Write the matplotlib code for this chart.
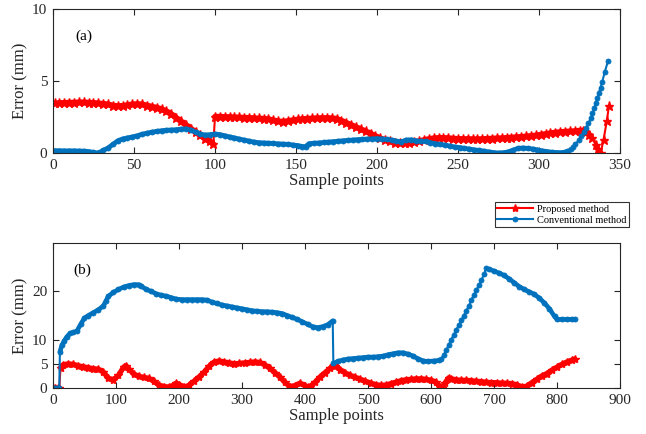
import numpy as np
import matplotlib
matplotlib.use("Agg")
import matplotlib.pyplot as plt

plt.rcParams['font.family'] = ['Liberation Serif', 'DejaVu Serif']

RED = '#FF0000'
BLUE = '#0072BD'
INK = '#262626'

# ---- trajectory (a): error per sample point ----
xa_prop = [1, 4, 7, 10, 13, 16, 19, 22, 25, 28, 31, 34, 37, 40, 43, 46, 49, 52, 55, 58,
           61, 64, 67, 70, 73, 76, 79, 82, 85, 88, 91, 94, 97, 99, 100, 103, 106, 109, 112, 115,
           118, 121, 124, 127, 130, 133, 136, 139, 142, 145, 148, 151, 154, 157, 160, 163, 166, 169, 172, 175,
           178, 181, 184, 187, 190, 193, 196, 199, 202, 205, 208, 211, 214, 217, 220, 223, 226, 229, 232, 235,
           238, 241, 244, 247, 250, 253, 256, 259, 262, 265, 268, 271, 274, 277, 280, 283, 286, 289, 292, 295,
           298, 301, 304, 307, 310, 313, 316, 319, 322, 325, 327, 329, 331, 333, 335, 336.5, 338, 339.8, 341.8, 343.2]
ya_prop = [3.45, 3.47, 3.48, 3.50, 3.50, 3.52, 3.52, 3.50, 3.48, 3.45, 3.42, 3.38, 3.30, 3.26, 3.28, 3.33, 3.38, 3.40, 3.38, 3.30,
           3.22, 3.15, 3.05, 2.90, 2.70, 2.45, 2.20, 1.95, 1.70, 1.45, 1.22, 1.00, 0.80, 0.62, 2.52, 2.52, 2.50, 2.50, 2.48, 2.47,
           2.45, 2.44, 2.42, 2.40, 2.38, 2.35, 2.28, 2.20, 2.18, 2.22, 2.28, 2.33, 2.36, 2.38, 2.40, 2.42, 2.43, 2.43, 2.42, 2.38,
           2.25, 2.10, 1.95, 1.80, 1.65, 1.50, 1.35, 1.18, 1.02, 0.90, 0.80, 0.72, 0.66, 0.66, 0.70, 0.76, 0.82, 0.90, 0.97, 1.02,
           1.05, 1.05, 1.03, 1.00, 0.98, 0.97, 0.97, 0.96, 0.96, 0.97, 0.98, 1.00, 1.02, 1.03, 1.05, 1.07, 1.10, 1.12, 1.15, 1.18,
           1.22, 1.27, 1.32, 1.37, 1.42, 1.45, 1.48, 1.50, 1.52, 1.55, 1.55, 1.48, 1.28, 1.02, 0.55, 0.30, 0.00, 0.90, 2.20, 3.30]

xa_conv = [1, 4, 7, 10, 13, 16, 19, 22, 25, 27, 29, 31, 34, 37, 40, 43, 46, 49, 52, 55,
           58, 61, 64, 67, 70, 73, 76, 79, 82, 85, 88, 91, 94, 97, 100, 103, 106, 109, 112, 115,
           118, 121, 124, 127, 130, 133, 136, 139, 142, 145, 148, 151, 154, 156, 158, 161, 164, 167, 170, 173,
           176, 179, 182, 185, 188, 191, 194, 197, 200, 203, 206, 209, 212, 215, 218, 221, 224, 227, 230, 233,
           236, 239, 242, 245, 248, 251, 254, 257, 260, 263, 266, 269, 272, 275, 278, 281, 284, 287, 290, 293,
           296, 299, 302, 305, 308, 311, 314, 316, 318, 320, 321, 322.5, 324.7, 326, 327.8, 329, 330.5, 332, 333, 334,
           335, 336, 337, 338, 339, 340.5, 342.6]
ya_conv = [0.16, 0.16, 0.15, 0.15, 0.15, 0.14, 0.13, 0.10, 0.04, 0.00, 0.05, 0.18, 0.35, 0.60, 0.85, 0.98, 1.05, 1.12, 1.20, 1.30,
           1.38, 1.45, 1.50, 1.55, 1.58, 1.60, 1.62, 1.66, 1.68, 1.60, 1.45, 1.32, 1.25, 1.28, 1.32, 1.28, 1.20, 1.12, 1.05, 0.97,
           0.90, 0.83, 0.76, 0.72, 0.70, 0.68, 0.66, 0.64, 0.62, 0.60, 0.56, 0.52, 0.45, 0.45, 0.65, 0.68, 0.70, 0.73, 0.76, 0.79,
           0.82, 0.85, 0.88, 0.90, 0.93, 0.95, 0.97, 0.98, 1.00, 0.98, 0.95, 0.90, 0.82, 0.78, 0.90, 0.92, 0.85, 0.82, 0.80, 0.72,
           0.65, 0.60, 0.55, 0.48, 0.42, 0.38, 0.32, 0.28, 0.22, 0.18, 0.13, 0.08, 0.03, 0.00, 0.02, 0.08, 0.20, 0.32, 0.35, 0.32,
           0.28, 0.22, 0.15, 0.10, 0.05, 0.03, 0.03, 0.05, 0.15, 0.30, 0.40, 0.62, 0.90, 1.15, 1.48, 1.75, 2.06, 2.40, 2.75, 3.10,
           3.45, 3.80, 4.20, 4.55, 4.95, 5.60, 6.40]

# ---- trajectory (b) ----
xb_prop = [0, 4, 8, 10, 12, 16, 24, 32, 40, 48, 56, 64, 72, 80, 88, 96, 104, 112, 116, 120,
           128, 136, 144, 152, 160, 168, 176, 184, 192, 196, 200, 208, 212, 216, 224, 232, 240, 248, 256, 264,
           272, 280, 288, 296, 304, 312, 320, 328, 336, 344, 352, 360, 368, 376, 384, 392, 400, 404, 408, 416,
           424, 432, 440, 446, 448, 456, 464, 472, 480, 488, 496, 504, 512, 520, 528, 536, 544, 552, 560, 568,
           576, 584, 592, 600, 608, 614, 618, 622, 628, 632, 640, 648, 656, 664, 672, 680, 688, 696, 704, 712,
           720, 728, 736, 744, 752, 760, 768, 776, 784, 792, 800, 808, 816, 824, 828]
yb_prop = [0.0, 0.0, 0.0, 0.0, 4.2, 4.8, 5.0, 4.9, 4.6, 4.4, 4.2, 4.0, 3.9, 3.3, 2.0, 1.7, 2.6, 4.3, 4.6, 4.0,
           2.9, 2.4, 2.2, 2.0, 1.4, 0.6, 0.3, 0.2, 0.6, 1.0, 0.7, 0.3, 0.2, 0.6, 1.4, 2.3, 3.3, 4.5, 5.4, 5.6,
           5.4, 5.2, 5.0, 5.1, 5.2, 5.3, 5.4, 5.3, 4.8, 4.1, 3.2, 2.3, 1.2, 0.3, 0.5, 1.0, 0.5, 0.2, 0.3, 1.2,
           2.3, 3.2, 4.1, 4.8, 4.5, 3.8, 3.1, 2.6, 2.2, 1.8, 1.4, 1.0, 0.7, 0.55, 0.6, 0.9, 1.2, 1.5, 1.7, 1.8,
           1.9, 1.9, 1.8, 1.6, 1.2, 0.3, 0.1, 1.0, 2.1, 1.9, 1.7, 1.6, 1.6, 1.5, 1.4, 1.3, 1.2, 1.1, 1.1, 1.0,
           1.0, 0.9, 0.7, 0.2, 0.4, 1.1, 1.8, 2.5, 3.0, 3.7, 4.3, 4.9, 5.4, 5.8, 6.0]

xb_conv = [0, 4, 8, 10, 11, 14, 18, 22, 27, 32, 38, 44, 50, 56, 64, 72, 80, 84, 88, 96,
           104, 112, 120, 128, 136, 140, 148, 156, 164, 172, 180, 188, 196, 204, 212, 220, 228, 236, 244, 252,
           260, 268, 276, 284, 292, 300, 308, 316, 324, 332, 340, 348, 356, 364, 372, 380, 388, 396, 404, 412,
           420, 428, 436, 444, 445, 452, 460, 468, 476, 484, 492, 500, 508, 516, 524, 532, 540, 548, 556, 564,
           572, 580, 588, 596, 604, 612, 616, 620, 624, 628, 632, 636, 640, 644, 648, 652, 656, 660, 664, 668,
           672, 676, 680, 684, 688, 692, 700, 708, 716, 724, 732, 740, 748, 756, 764, 772, 780, 788, 796, 800,
           808, 816, 824, 828]
yb_conv = [0.0, 0.0, 0.0, 0.0, 7.5, 8.8, 9.8, 10.6, 11.3, 11.5, 11.8, 13.2, 14.5, 15.0, 15.6, 16.2, 17.0, 18.0, 19.0, 19.8,
           20.4, 20.9, 21.2, 21.4, 21.4, 21.1, 20.4, 20.0, 19.5, 19.2, 19.0, 18.7, 18.4, 18.3, 18.3, 18.3, 18.3, 18.3, 18.2, 17.8,
           17.5, 17.2, 17.0, 16.8, 16.6, 16.4, 16.2, 16.0, 15.9, 15.8, 15.8, 15.7, 15.6, 15.4, 15.0, 14.6, 14.2, 13.7, 13.2, 12.7,
           12.5, 12.7, 13.1, 13.9, 5.1, 5.5, 5.8, 6.0, 6.1, 6.2, 6.3, 6.4, 6.4, 6.5, 6.6, 6.9, 7.1, 7.3, 7.3, 7.0,
           6.6, 6.0, 5.6, 5.5, 5.6, 5.7, 6.0, 6.8, 7.8, 8.9, 10.0, 11.0, 12.0, 13.0, 14.0, 15.0, 16.0, 17.0, 18.2, 19.3,
           20.3, 21.3, 22.3, 23.5, 24.9, 24.6, 24.2, 23.8, 23.3, 22.6, 21.8, 21.0, 20.4, 19.9, 19.4, 18.6, 17.6, 16.4, 14.8, 14.2,
           14.2, 14.2, 14.2, 14.2]


def band(x, y, gaps):
    """Copy of a series with NaN breaks so the thick trace skips jumps and steep runs."""
    x = np.asarray(x, float)
    y = np.asarray(y, float).copy()
    for lo, hi in gaps:
        y[(x > lo) & (x < hi)] = np.nan
    # insert a break between neighbours that straddle a gap
    xs, ys = [x[0]], [y[0]]
    for i in range(1, len(x)):
        for lo, hi in gaps:
            if x[i - 1] <= lo < x[i] or x[i - 1] < hi <= x[i]:
                xs.append(np.nan)
                ys.append(np.nan)
                break
        xs.append(x[i])
        ys.append(y[i])
    return np.array(xs), np.array(ys)


def style_axes(ax, xlim, xticks, ylim, yticks):
    ax.set_xlim(*xlim)
    ax.set_ylim(*ylim)
    ax.set_xticks(xticks)
    ax.set_yticks(yticks)
    ax.tick_params(direction='in', top=True, right=True, length=4, width=0.8,
                   labelsize=11, colors=INK, pad=4)
    for sp in ax.spines.values():
        sp.set_color(INK)
        sp.set_linewidth(0.8)
    ax.set_xlabel('Sample points', fontsize=12, color=INK, labelpad=1)
    ax.set_ylabel('Error (mm)', fontsize=12, color=INK, labelpad=3)


fig = plt.figure(figsize=(6.46, 4.34), dpi=100)
ax1 = fig.add_axes([0.082, 0.6475, 0.8778, 0.3315])
ax2 = fig.add_axes([0.082, 0.106, 0.8778, 0.334])

panels = [
    (ax1, xa_prop, ya_prop, [(99.5, 99.9), (332, 400)], 4.2, 6.5,
          xa_conv, ya_conv, [(318, 400)], 3.4),
    (ax2, xb_prop, yb_prop, [(10.5, 11.9)], 3.8, 6.0,
          xb_conv, yb_conv, [(10.3, 10.9), (444.3, 444.9), (613, 689)], 3.3),
]

for ax, xp, yp, gp, lwp, msp, xc, yc, gc, lwc in panels:
    ax.plot(xp, yp, '-*', color=RED, lw=1.5, ms=msp, mew=1.0, label='Proposed method')
    bx, by = band(xp, yp, gp)
    ax.plot(bx, by, '-', color=RED, lw=lwp, solid_capstyle='round')
    ax.plot(xc, yc, '-o', color=BLUE, lw=1.5, ms=3.6, mew=0.6, label='Conventional method')
    bx, by = band(xc, yc, gc)
    ax.plot(bx, by, '-', color=BLUE, lw=lwc, solid_capstyle='round')

style_axes(ax1, (0, 350), np.arange(0, 351, 50), (0, 10), [0, 5, 10])
style_axes(ax2, (0, 900), np.arange(0, 901, 100), (0, 30), [0, 5, 10, 20])

ax1.text(14, 8.1, '(a)', fontsize=11, color='black', va='center')
ax2.text(32, 24.3, '(b)', fontsize=11, color='black', va='center')

h, l = ax2.get_legend_handles_labels()
leg = fig.legend(h[:2], l[:2], loc='upper right', bbox_to_anchor=(0.9737, 0.5346),
                 fontsize=7.5, frameon=True, fancybox=False, edgecolor='black',
                 handlelength=3.4, handletextpad=0.4, borderpad=0.25,
                 labelspacing=0.15, numpoints=1, borderaxespad=0)
leg.get_frame().set_linewidth(0.8)

fig.savefig('out.png', dpi=100)
